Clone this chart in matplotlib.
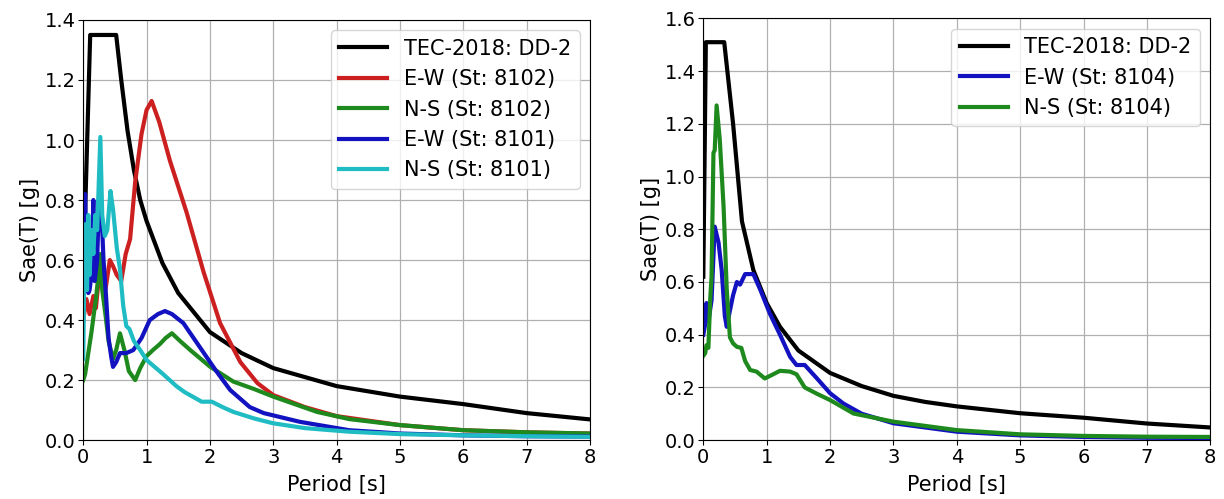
# response spectra vs TEC-2018 design spectrum
import matplotlib
matplotlib.use("Agg")
from matplotlib import pyplot as plt

# --- left panel: stations 8102 / 8101 ---
t_dd2_a = [0.0, 0.11, 0.52, 0.6, 0.7, 0.8, 0.9, 1.0, 1.25, 1.5, 2.0, 2.5, 3.0, 3.5, 4.0, 5.0, 6.0, 7.0, 8.0]
sa_dd2_a = [0.54, 1.35, 1.35, 1.2, 1.03, 0.9, 0.8, 0.73, 0.59, 0.49, 0.36, 0.29, 0.24, 0.21, 0.18, 0.145, 0.12, 0.09, 0.069]

t_ew_8102 = [0.0, 0.05, 0.1, 0.16, 0.2, 0.25, 0.3, 0.35, 0.42, 0.47, 0.53, 0.6, 0.67, 0.74, 0.82, 0.92, 1.0, 1.08,
             1.2, 1.37, 1.63, 1.9, 2.16, 2.48, 2.75, 3.0, 3.5, 4.0, 5.0, 6.0, 7.0, 8.0]
sa_ew_8102 = [0.4, 0.47, 0.42, 0.48, 0.44, 0.55, 0.62, 0.5, 0.6, 0.58, 0.55, 0.53, 0.62, 0.67, 0.86, 1.02, 1.1, 1.13,
              1.06, 0.93, 0.76, 0.56, 0.39, 0.26, 0.19, 0.15, 0.11, 0.08, 0.05, 0.033, 0.026, 0.022]

t_ns_8102 = [0.0, 0.03, 0.08, 0.13, 0.18, 0.2, 0.24, 0.27, 0.3, 0.35, 0.4, 0.47, 0.52, 0.58, 0.65, 0.72, 0.82, 0.9, 1.0,
             1.1, 1.21, 1.3, 1.4, 1.53, 1.69, 2.0, 2.37, 2.7, 3.0, 3.69, 4.2, 5.0, 6.0, 7.0, 8.0]
sa_ns_8102 = [0.2, 0.22, 0.29, 0.36, 0.44, 0.47, 0.55, 0.62, 0.5, 0.42, 0.33, 0.27, 0.3, 0.356, 0.3, 0.23, 0.2, 0.24,
              0.28, 0.3, 0.32, 0.34, 0.356, 0.33, 0.3, 0.245, 0.195, 0.17, 0.145, 0.094, 0.07, 0.05, 0.033, 0.026, 0.022]

t_ew_8101 = [0.0, 0.03, 0.05, 0.08, 0.1, 0.13, 0.16, 0.18, 0.22, 0.26, 0.29, 0.32, 0.36, 0.4, 0.44, 0.47, 0.52, 0.58,
             0.68, 0.79, 0.92, 1.05, 1.18, 1.29, 1.4, 1.58, 1.84, 2.1, 2.32, 2.63, 2.85, 3.42, 4.2, 5.0, 6.0, 7.0, 8.0]
sa_ew_8101 = [0.7, 0.82, 0.62, 0.49, 0.5, 0.55, 0.8, 0.53, 0.6, 0.88, 0.75, 0.6, 0.48, 0.34, 0.28, 0.244, 0.26, 0.29,
              0.29, 0.3, 0.34, 0.4, 0.42, 0.43, 0.42, 0.39, 0.31, 0.23, 0.167, 0.11, 0.09, 0.061, 0.033, 0.022, 0.016, 0.013, 0.012]

t_ns_8101 = [0.0, 0.02, 0.04, 0.06, 0.08, 0.1, 0.13, 0.16, 0.19, 0.22, 0.27, 0.3, 0.34, 0.38, 0.43, 0.47, 0.53, 0.58,
             0.63, 0.68, 0.73, 0.8, 0.9, 1.0, 1.26, 1.47, 1.6, 1.87, 2.03, 2.2, 2.37, 2.7, 3.0, 3.5, 4.2, 5.0, 6.0, 7.0, 8.0]
sa_ns_8101 = [0.27, 0.6, 0.72, 0.5, 0.75, 0.55, 0.7, 0.62, 0.75, 0.7, 1.01, 0.75, 0.68, 0.7, 0.83, 0.77, 0.64, 0.57,
              0.45, 0.38, 0.37, 0.33, 0.3, 0.267, 0.22, 0.18, 0.16, 0.128, 0.128, 0.11, 0.094, 0.072, 0.056, 0.04, 0.028,
              0.02, 0.016, 0.013, 0.011]

# --- right panel: station 8104 ---
t_dd2_b = [0.0, 0.04, 0.33, 0.47, 0.61, 0.79, 1.0, 1.21, 1.5, 2.0, 2.5, 3.0, 3.5, 4.0, 5.0, 6.0, 7.0, 8.0]
sa_dd2_b = [0.62, 1.51, 1.51, 1.2, 0.83, 0.645, 0.52, 0.43, 0.34, 0.255, 0.205, 0.168, 0.145, 0.128, 0.102, 0.085, 0.063, 0.048]

t_ew_8104 = [0.0, 0.03, 0.05, 0.08, 0.13, 0.18, 0.24, 0.29, 0.34, 0.37, 0.41, 0.47, 0.53, 0.58, 0.66, 0.79, 0.9, 1.05,
             1.21, 1.37, 1.47, 1.6, 1.79, 2.0, 2.21, 2.5, 3.0, 4.0, 5.0, 6.0, 7.0, 8.0]
sa_ew_8104 = [0.4, 0.44, 0.52, 0.45, 0.53, 0.81, 0.75, 0.645, 0.47, 0.43, 0.48, 0.55, 0.6, 0.59, 0.63, 0.63, 0.57, 0.48,
              0.4, 0.316, 0.285, 0.285, 0.235, 0.178, 0.139, 0.1, 0.064, 0.032, 0.018, 0.012, 0.009, 0.008]

t_ns_8104 = [0.0, 0.03, 0.05, 0.08, 0.11, 0.13, 0.16, 0.18, 0.21, 0.26, 0.32, 0.37, 0.42, 0.47, 0.53, 0.6, 0.66, 0.74,
             0.84, 0.97, 1.08, 1.21, 1.37, 1.47, 1.6, 1.8, 2.0, 2.37, 3.0, 4.0, 5.0, 6.0, 7.0, 8.0]
sa_ns_8104 = [0.32, 0.33, 0.36, 0.35, 0.54, 0.62, 1.09, 1.1, 1.27, 1.14, 0.885, 0.57, 0.39, 0.367, 0.354, 0.35, 0.3, 0.266,
              0.26, 0.234, 0.247, 0.263, 0.26, 0.25, 0.2, 0.175, 0.152, 0.101, 0.07, 0.038, 0.022, 0.016, 0.013, 0.012]

c_red = "#cc2020"
c_green = "#1e8a1e"
c_blue = "#1212c0"
c_cyan = "#20bcc4"
lw = 3

fig = plt.figure(figsize=(12.24, 4.99), dpi=100)
ax1 = fig.add_axes([0.068, 0.118, 0.414, 0.842])
ax2 = fig.add_axes([0.5746, 0.118, 0.4142, 0.845])

ax1.plot(t_dd2_a, sa_dd2_a, color="black", lw=lw, label="TEC-2018: DD-2")
ax1.plot(t_ew_8102, sa_ew_8102, color=c_red, lw=lw, label="E-W (St: 8102)")
ax1.plot(t_ns_8102, sa_ns_8102, color=c_green, lw=lw, label="N-S (St: 8102)")
ax1.plot(t_ew_8101, sa_ew_8101, color=c_blue, lw=lw, label="E-W (St: 8101)")
ax1.plot(t_ns_8101, sa_ns_8101, color=c_cyan, lw=lw, label="N-S (St: 8101)")
ax1.set_ylim(0, 1.4)

ax2.plot(t_dd2_b, sa_dd2_b, color="black", lw=lw, label="TEC-2018: DD-2")
ax2.plot(t_ew_8104, sa_ew_8104, color=c_blue, lw=lw, label="E-W (St: 8104)")
ax2.plot(t_ns_8104, sa_ns_8104, color=c_green, lw=lw, label="N-S (St: 8104)")
ax2.set_ylim(0, 1.6)

for ax in (ax1, ax2):
    ax.set_xlim(0, 8)
    ax.set_xticks(range(0, 9))
    ax.grid(True, color="#b0b0b0", lw=0.9)
    ax.set_xlabel("Period [s]", fontsize=15, labelpad=6)
    ax.set_ylabel("Sae(T) [g]", fontsize=15, labelpad=3)
    ax.tick_params(labelsize=14, pad=2)
    ax.legend(loc="upper right", fontsize=15, handlelength=2.3, borderaxespad=0.5)

fig.savefig("out.png", dpi=100)
